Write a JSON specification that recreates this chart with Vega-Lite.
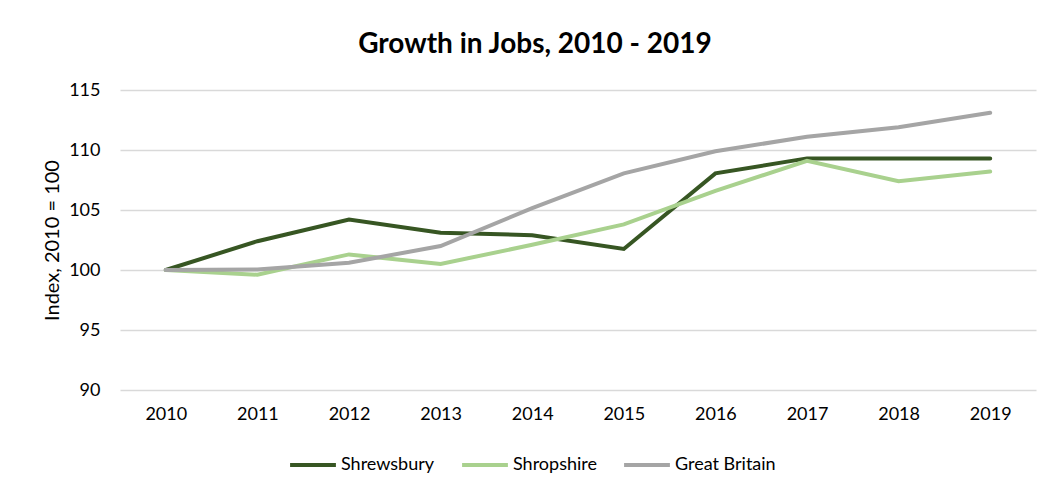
{
  "$schema": "https://vega.github.io/schema/vega-lite/v6.json",
  "autosize": {"type": "none"},
  "width": 916,
  "height": 300,
  "padding": {"left": 120, "top": 90, "right": 14, "bottom": 101},
  "background": "white",
  "title": {
    "text": "Growth in Jobs, 2010 - 2019",
    "font": "Lato",
    "fontSize": 28,
    "fontWeight": "bold",
    "color": "#000000",
    "anchor": "middle",
    "dx": -43,
    "offset": 22
  },
  "data": {
    "values": [
      {"year": "2010", "series": "Shrewsbury", "value": 100},
      {"year": "2011", "series": "Shrewsbury", "value": 102.4},
      {"year": "2012", "series": "Shrewsbury", "value": 104.2},
      {"year": "2013", "series": "Shrewsbury", "value": 103.1},
      {"year": "2014", "series": "Shrewsbury", "value": 102.9},
      {"year": "2015", "series": "Shrewsbury", "value": 101.75},
      {"year": "2016", "series": "Shrewsbury", "value": 108.05},
      {"year": "2017", "series": "Shrewsbury", "value": 109.3},
      {"year": "2018", "series": "Shrewsbury", "value": 109.3},
      {"year": "2019", "series": "Shrewsbury", "value": 109.3},
      {"year": "2010", "series": "Shropshire", "value": 100},
      {"year": "2011", "series": "Shropshire", "value": 99.6},
      {"year": "2012", "series": "Shropshire", "value": 101.3},
      {"year": "2013", "series": "Shropshire", "value": 100.5},
      {"year": "2014", "series": "Shropshire", "value": 102.1},
      {"year": "2015", "series": "Shropshire", "value": 103.8},
      {"year": "2016", "series": "Shropshire", "value": 106.6},
      {"year": "2017", "series": "Shropshire", "value": 109.1},
      {"year": "2018", "series": "Shropshire", "value": 107.4},
      {"year": "2019", "series": "Shropshire", "value": 108.2},
      {"year": "2010", "series": "Great Britain", "value": 100},
      {"year": "2011", "series": "Great Britain", "value": 100.05},
      {"year": "2012", "series": "Great Britain", "value": 100.6},
      {"year": "2013", "series": "Great Britain", "value": 102.0},
      {"year": "2014", "series": "Great Britain", "value": 105.15},
      {"year": "2015", "series": "Great Britain", "value": 108.05},
      {"year": "2016", "series": "Great Britain", "value": 109.9},
      {"year": "2017", "series": "Great Britain", "value": 111.1},
      {"year": "2018", "series": "Great Britain", "value": 111.9},
      {"year": "2019", "series": "Great Britain", "value": 113.1}
    ]
  },
  "mark": {"type": "line", "strokeWidth": 4, "strokeCap": "round", "strokeJoin": "miter"},
  "encoding": {
    "x": {
      "field": "year",
      "type": "ordinal",
      "scale": {"type": "point", "padding": 0.5},
      "axis": {
        "title": null,
        "labelAngle": 0,
        "ticks": false,
        "domain": false,
        "grid": false,
        "labelPadding": 15,
        "labelFont": "Lato",
        "labelFontSize": 18,
        "labelColor": "#000000"
      }
    },
    "y": {
      "field": "value",
      "type": "quantitative",
      "scale": {"domain": [90, 115], "zero": false, "nice": false},
      "axis": {
        "title": "Index, 2010 = 100",
        "titleFont": "Lato",
        "titleFontSize": 20,
        "titleFontWeight": "normal",
        "titleColor": "#000000",
        "titlePadding": 6,
        "values": [90, 95, 100, 105, 110, 115],
        "ticks": false,
        "domain": false,
        "grid": true,
        "gridColor": "#D9D9D9",
        "gridWidth": 1.5,
        "labelPadding": 20,
        "labelFont": "Lato",
        "labelFontSize": 18,
        "labelColor": "#000000"
      }
    },
    "color": {
      "field": "series",
      "type": "nominal",
      "sort": ["Shrewsbury", "Shropshire", "Great Britain"],
      "scale": {
        "domain": ["Shrewsbury", "Shropshire", "Great Britain"],
        "range": ["#375623", "#A9D18E", "#A5A5A5"]
      },
      "legend": {
        "title": null,
        "orient": "none",
        "direction": "horizontal",
        "legendX": 168,
        "legendY": 350,
        "symbolType": "stroke",
        "symbolSize": 2100,
        "symbolStrokeWidth": 4,
        "labelFont": "Lato",
        "labelFontSize": 18,
        "labelColor": "#000000",
        "labelOffset": 3,
        "columnPadding": 19
      }
    }
  },
  "config": {
    "view": {"stroke": null}
  }
}
